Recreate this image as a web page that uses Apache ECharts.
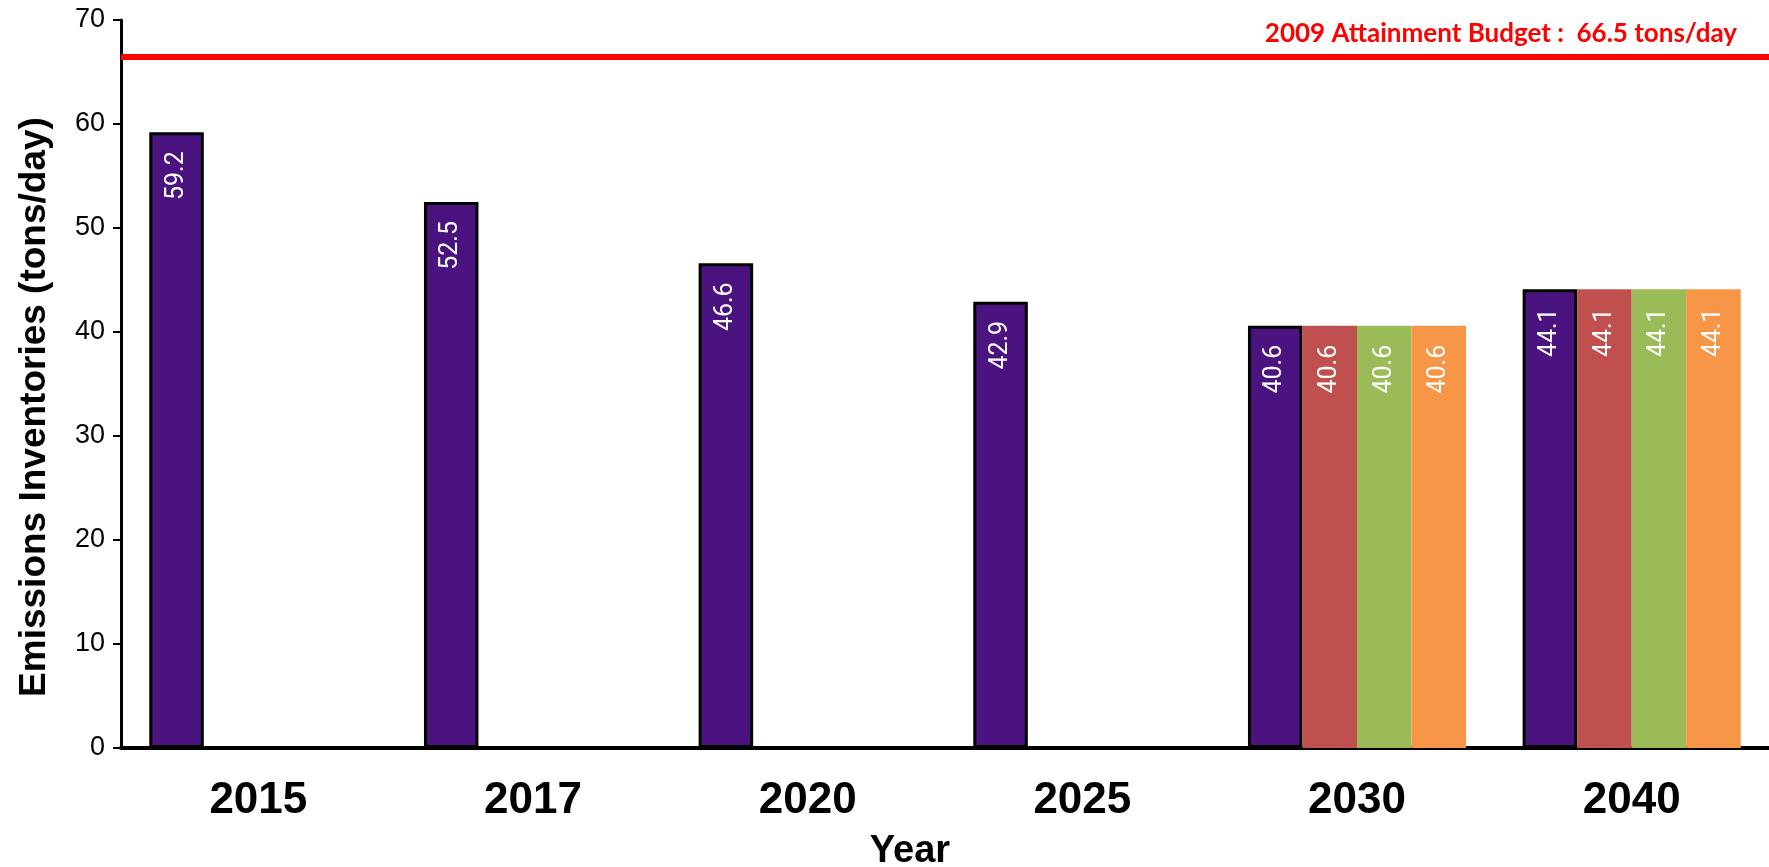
<!DOCTYPE html>
<html>
<head>
<meta charset="utf-8">
<script src="https://cdn.jsdelivr.net/npm/echarts@6/dist/echarts.min.js"></script>
<style>
html,body{margin:0;padding:0;background:#fff;}
#chart{width:1769px;height:867px;}
</style>
</head>
<body>
<div id="chart"></div>
<script>
const categories = ['2015', '2017', '2020', '2025', '2030', '2040'];
const seriesA = [59.2, 52.5, 46.6, 42.9, 40.6, 44.1];
const seriesB = [null, null, null, null, 40.6, 44.1];
const seriesC = [null, null, null, null, 40.6, 44.1];
const seriesD = [null, null, null, null, 40.6, 44.1];
const budgetValue = 66.5;
const budgetLabel = '2009 Attainment Budget :  66.5 tons/day';
const yTicks = { min: 0, max: 70, interval: 10 };

const chart = echarts.init(document.getElementById('chart'));

const barLabel = {
  show: true,
  position: 'insideTop',
  rotate: 90,
  align: 'right',
  verticalAlign: 'middle',
  distance: 19,
  color: '#ffffff',
  fontFamily: 'Roboto',
  fontSize: 25
};

function mk(name, data, color, border) {
  return {
    name: name,
    type: 'bar',
    data: data,
    barGap: '0%',
    barCategoryGap: '20.6%',
    itemStyle: border ? { color: color, borderColor: '#000', borderWidth: 3 } : { color: color },
    label: barLabel,
    silent: true
  };
}

const series = [
  mk('A', seriesA, '#4A1380', true),
  mk('B', seriesB, '#C0504D', false),
  mk('C', seriesC, '#9BBB59', false),
  mk('D', seriesD, '#F79646', false)
];
series[0].markLine = {
  silent: true,
  symbol: ['none', 'none'],
  lineStyle: { color: '#FF0000', width: 6, type: 'solid' },
  label: {
    show: true,
    position: 'insideEndTop',
    formatter: budgetLabel,
    color: '#FF0000',
    fontFamily: 'Lato',
    fontWeight: 'bold',
    fontSize: 26,
    distance: [32, 10]
  },
  data: [{ yAxis: budgetValue }]
};

chart.setOption({
  animation: false,
  grid: { left: 121, right: 0, top: 20, bottom: 119, containLabel: false, outerBoundsMode: 'none' },
  xAxis: {
    type: 'category',
    data: categories,
    name: 'Year',
    nameLocation: 'middle',
    nameGap: 85,
    nameTextStyle: { fontFamily: 'Liberation Sans', fontWeight: 'bold', fontSize: 38, color: '#000', padding: [0, 70, 0, 0] },
    axisLine: { lineStyle: { color: '#000', width: 4 } },
    axisTick: { show: false },
    axisLabel: { fontFamily: 'Liberation Sans', fontWeight: 'bold', fontSize: 44, color: '#000', margin: 31 }
  },
  yAxis: {
    type: 'value',
    min: yTicks.min,
    max: yTicks.max,
    interval: yTicks.interval,
    name: 'Emissions Inventories (tons/day)',
    nameLocation: 'middle',
    nameGap: 68,
    nameTextStyle: { fontFamily: 'Liberation Sans', fontWeight: 'bold', fontSize: 37, color: '#000', padding: [0, 46, 0, 0] },
    axisLine: { show: true, lineStyle: { color: '#000', width: 3 } },
    axisTick: { show: true, length: 8, lineStyle: { color: '#000', width: 2 } },
    splitLine: { show: false },
    axisLabel: { fontFamily: 'Liberation Sans', fontSize: 27, color: '#000', margin: 16 }
  },
  series: series
});
</script>
</body>
</html>
